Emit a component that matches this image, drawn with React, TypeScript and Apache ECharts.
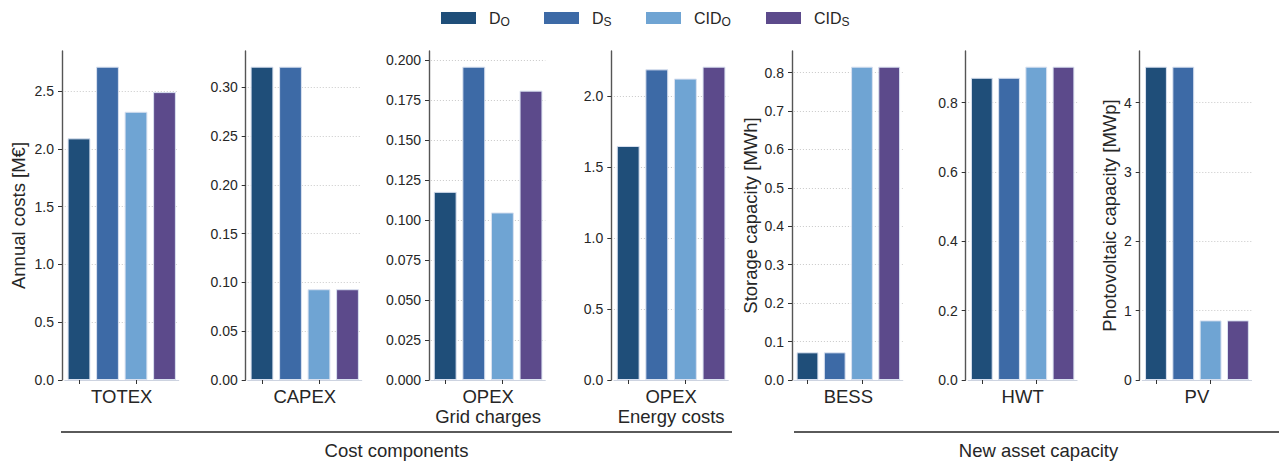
import React, { useEffect, useRef } from 'react';
import * as echarts from 'echarts';

const scenarios = ['D_O', 'D_S', 'CID_O', 'CID_S'];
const scenarioMain = ['D', 'D', 'CID', 'CID'];
const scenarioSub = ['O', 'S', 'O', 'S'];
const colors = ['#1f4e79', '#3d6aa6', '#6fa4d3', '#5c4a8b'];

const panels = ['TOTEX', 'CAPEX', 'OPEX\nGrid charges', 'OPEX\nEnergy costs', 'BESS', 'HWT', 'PV'];
const totex = [2.09, 2.71, 2.32, 2.49];
const capex = [0.321, 0.321, 0.093, 0.093];
const opexGrid = [0.1177, 0.196, 0.1048, 0.181];
const opexEnergy = [1.65, 2.19, 2.125, 2.209];
const bess = [0.072, 0.072, 0.8156, 0.8156];
const hwt = [0.872, 0.872, 0.904, 0.904];
const pv = [4.52, 4.52, 0.86, 0.86];
const panelValues = [totex, capex, opexGrid, opexEnergy, bess, hwt, pv];

const yTitles = ['Annual costs [M€]', '', '', '', 'Storage capacity [MWh]', '', 'Photovoltaic capacity [MWp]'];
const tickSteps = [0.5, 0.05, 0.025, 0.5, 0.1, 0.2, 1];
const tickDecimals = [1, 2, 3, 1, 1, 1, 0];
const groups = ['Cost components', 'New asset capacity'];

const FONT = '"Liberation Sans", Arial, sans-serif';
const TEXT = '#262626';

const layout = [
  { axis: 62, left: 64.75, width: 114, nameGap: 34 },
  { axis: 245.7, left: 247.75, width: 114, nameGap: 30 },
  { axis: 429, left: 430.9, width: 114.4, nameGap: 30 },
  { axis: 611.3, left: 613.9, width: 114.4, nameGap: 30 },
  { axis: 792, left: 793.9, width: 108.9, nameGap: 32.5 },
  { axis: 965.7, left: 968.2, width: 108.9, nameGap: 30 },
  { axis: 1139.7, left: 1142.3, width: 109.3, nameGap: 21 },
];
const legendLefts = [441, 544, 646, 766];

export default function App() {
  const ref = useRef<HTMLDivElement>(null);
  useEffect(() => {
    if (!ref.current) return;
    const chart = echarts.init(ref.current, null, { renderer: 'svg' });

    const grids = layout.map((l) => ({ left: l.left, width: l.width, top: 51, height: 329 }));
    const xAxes = panels.map((p, i) => ({
      type: 'category',
      gridIndex: i,
      data: scenarios,
      name: p,
      nameLocation: 'middle',
      nameGap: 6,
      nameTextStyle: { fontFamily: FONT, fontSize: 18.5, color: TEXT, lineHeight: 20.5, verticalAlign: 'top' },
      axisLine: { show: true, lineStyle: { color: '#cdd3e0', width: 1 } },
      axisTick: { show: true, alignWithLabel: true, length: 4, lineStyle: { color: '#333', width: 1 } },
      axisLabel: { show: false },
      splitLine: { show: false },
    }));
    const yAxes = panels.map((_, i) => {
      const vals = panelValues[i];
      const max = Math.max(...vals) * 1.05;
      return {
        type: 'value',
        gridIndex: i,
        min: 0,
        max,
        interval: tickSteps[i],
        offset: layout[i].left - layout[i].axis,
        name: yTitles[i],
        nameLocation: 'middle',
        nameGap: layout[i].nameGap,
        nameTextStyle: { fontFamily: FONT, fontSize: 18.5, color: TEXT },
        axisLine: { show: true, lineStyle: { color: '#555', width: 1.4 } },
        axisTick: { show: true, length: 4, lineStyle: { color: '#333', width: 1 } },
        axisLabel: {
          fontFamily: FONT,
          fontSize: 14,
          color: TEXT,
          margin: 8,
          showMaxLabel: false,
          formatter: (v: number) => v.toFixed(tickDecimals[i]),
        },
        splitLine: {
          show: true,
          showMinLine: false,
          showMaxLine: false,
          lineStyle: { color: '#c8c8c8', type: [1, 2], width: 1 },
        },
      };
    });

    const series: any[] = [];
    panelValues.forEach((vals, p) => {
      scenarios.forEach((s, k) => {
        series.push({
          type: 'bar',
          name: s,
          xAxisIndex: p,
          yAxisIndex: p,
          stack: 'panel' + p,
          barWidth: '80%',
          data: vals.map((v, j) => (j === k ? v : '-')),
          itemStyle: { color: colors[k], borderColor: '#d9e1f0', borderWidth: 1 },
        });
      });
    });

    const legends = scenarios.map((s, k) => ({
      data: [s],
      left: legendLefts[k],
      top: 8,
      padding: 0,
      icon: 'rect',
      itemWidth: 35,
      itemHeight: 12,
      itemStyle: { borderWidth: 0 },
      formatter: () => `{g|}{m|${scenarioMain[k]}}{s|${scenarioSub[k]}}`,
      textStyle: {
        fontFamily: FONT,
        color: TEXT,
        rich: {
          g: { width: 8 },
          m: { fontFamily: FONT, fontSize: 16, lineHeight: 16, color: TEXT },
          s: { fontFamily: FONT, fontSize: 12, lineHeight: 12, padding: [8, 0, 0, 0], color: TEXT },
        },
      },
    }));

    const graphic = [
      { type: 'line', shape: { x1: 61, y1: 432, x2: 732, y2: 432 }, style: { stroke: '#5a5a5a', lineWidth: 2 } },
      { type: 'line', shape: { x1: 794, y1: 432, x2: 1284, y2: 432 }, style: { stroke: '#5a5a5a', lineWidth: 2 } },
      {
        type: 'text', x: 396.5, y: 450,
        style: { text: groups[0], font: `18.5px ${FONT}`, fontSize: 18.5, fontFamily: FONT, fill: TEXT, align: 'center', verticalAlign: 'middle', textAlign: 'center', textVerticalAlign: 'middle' },
      },
      {
        type: 'text', x: 1038.5, y: 450,
        style: { text: groups[1], font: `18.5px ${FONT}`, fontSize: 18.5, fontFamily: FONT, fill: TEXT, align: 'center', verticalAlign: 'middle', textAlign: 'center', textVerticalAlign: 'middle' },
      },
    ];

    chart.setOption({
      animation: false,
      backgroundColor: '#ffffff',
      textStyle: { fontFamily: FONT },
      grid: grids,
      xAxis: xAxes,
      yAxis: yAxes,
      legend: legends,
      series,
      graphic,
    } as any);
    return () => chart.dispose();
  }, []);
  return <div ref={ref} style={{ position: 'fixed', left: 0, top: 0, width: 1279, height: 461 }} />;
}
